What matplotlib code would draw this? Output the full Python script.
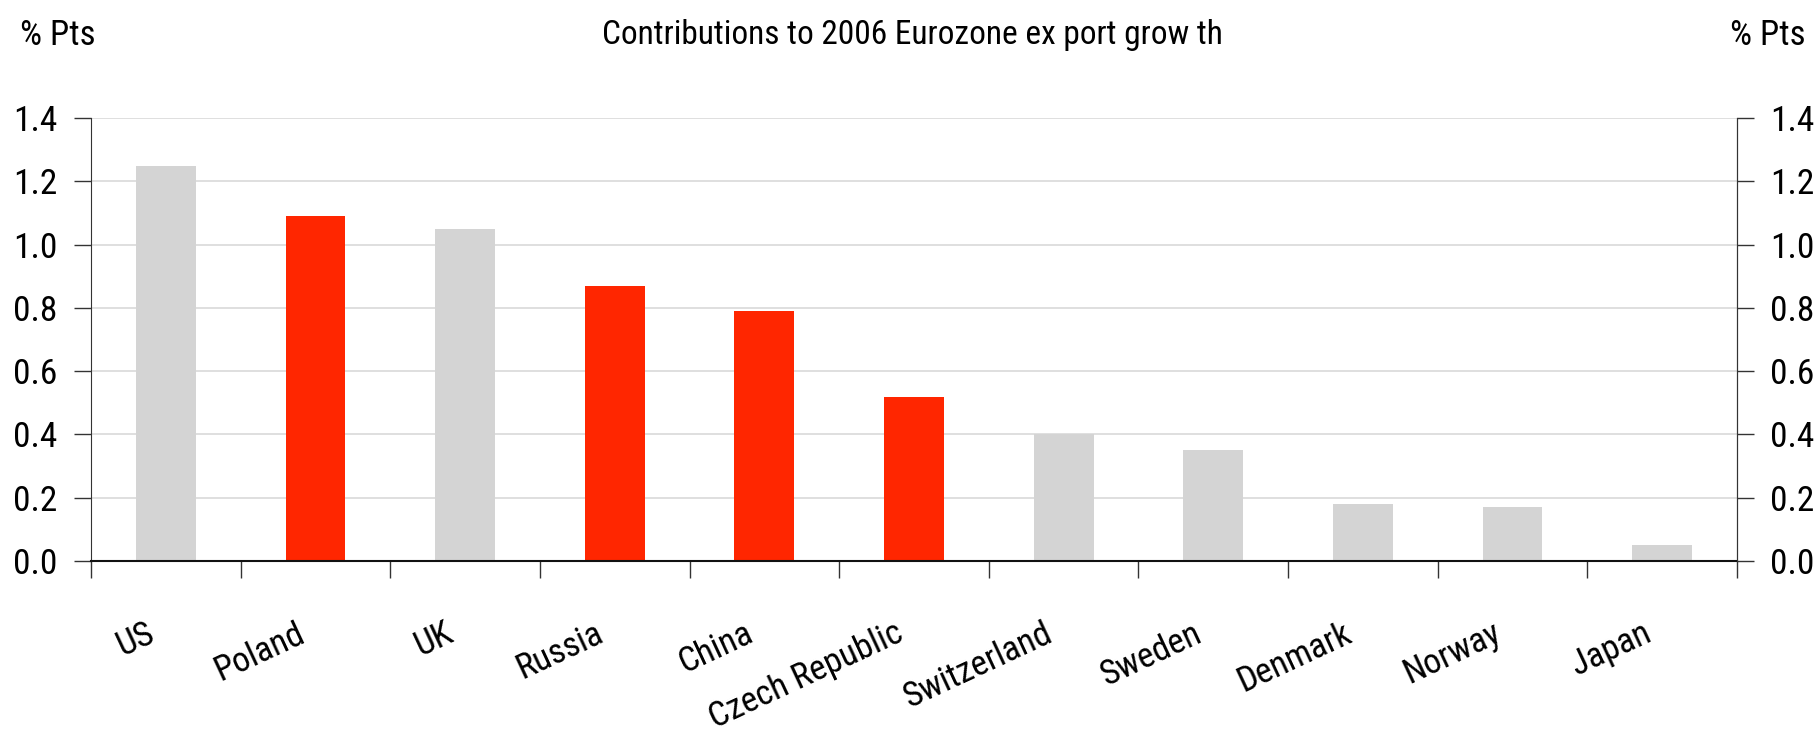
import numpy as np
import matplotlib.pyplot as plt
from matplotlib.transforms import ScaledTranslation

plt.rcParams['font.family'] = ['Roboto Condensed', 'Liberation Sans', 'DejaVu Sans']

# Contributions to Eurozone export growth in 2006, percentage points
countries = ["US", "Poland", "UK", "Russia", "China", "Czech Republic",
             "Switzerland", "Sweden", "Denmark", "Norway", "Japan"]
contrib = [1.25, 1.09, 1.05, 0.87, 0.79, 0.52, 0.40, 0.35, 0.18, 0.17, 0.05]
highlight = [False, True, False, True, True, True, False, False, False, False, False]

yticks = [0.0, 0.2, 0.4, 0.6, 0.8, 1.0, 1.2, 1.4]

grey = "#d4d4d4"
red = "#ff2600"

fig = plt.figure(figsize=(18.2, 7.38), dpi=100)
ax = fig.add_axes([0.05, 0.2398, 0.9044, 0.6002])

x = np.arange(len(countries))
colors = [red if h else grey for h in highlight]
ax.bar(x, contrib, width=0.4, color=colors, zorder=2)

ax.set_xlim(-0.5, len(countries) - 0.5)
ax.set_ylim(0, 1.4)
ax.set_yticks(yticks)
ax.set_yticklabels([f"{v:.1f}" for v in yticks], fontsize=25.5)
ax.yaxis.grid(True, color="#d9d9d9", lw=1.2, zorder=0)
ax.set_axisbelow(True)

# category labels at the centres, tick marks at the boundaries
ax.set_xticks(x)
ax.set_xticklabels(countries, fontsize=25, rotation=25, ha="right",
                   va="top", rotation_mode="anchor")
ax.tick_params(axis="x", which="major", length=0, pad=40)
shift = ScaledTranslation(-0.2, 0, fig.dpi_scale_trans)
for lbl in ax.get_xticklabels():
    lbl.set_transform(lbl.get_transform() + shift)
ax.set_xticks(np.arange(-0.5, len(countries)), minor=True)
ax.tick_params(axis="x", which="minor", length=12, width=1, color="#333333")
ax.tick_params(axis="y", length=12, width=1, color="#333333", pad=12)

ax.spines["top"].set_visible(False)
ax.spines["left"].set_color("#333333")
ax.spines["right"].set_color("#333333")
ax.spines["bottom"].set_color("#111111")
ax.spines["bottom"].set_linewidth(1.5)

ax2 = ax.twinx()
ax2.set_ylim(ax.get_ylim())
ax2.set_yticks(yticks)
ax2.set_yticklabels([f"{v:.1f}" for v in yticks], fontsize=25.5)
ax2.tick_params(axis="y", length=12, width=1, color="#333333", pad=12)
for s in ["top", "left", "bottom"]:
    ax2.spines[s].set_visible(False)
ax2.spines["right"].set_color("#333333")

fig.text(0.011, 0.952, "% Pts", fontsize=25, ha="left", va="center")
fig.text(0.992, 0.952, "% Pts", fontsize=25, ha="right", va="center")
fig.text(0.5015, 0.952, "Contributions to 2006 Eurozone ex port grow th",
         fontsize=24, ha="center", va="center")

fig.savefig("out.png", dpi=100)
